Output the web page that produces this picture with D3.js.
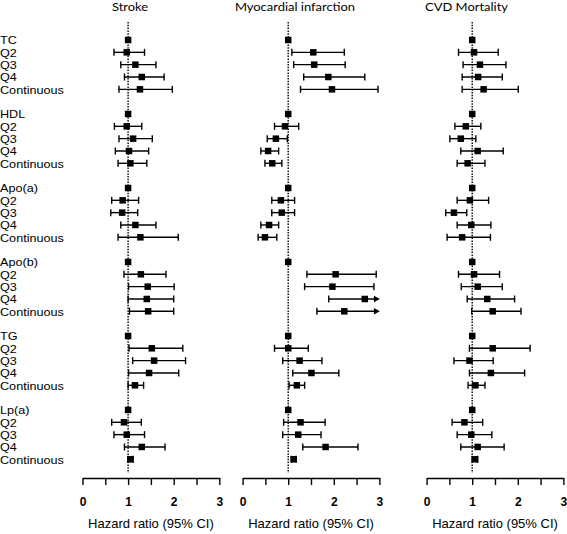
<!DOCTYPE html>
<html><head><meta charset="utf-8">
<script src="https://cdn.jsdelivr.net/npm/d3@7"></script>
<style>
html,body{margin:0;padding:0;background:#fff;}
svg{display:block;}
</style></head>
<body>
<script>
// ---- data ----
const panels = ["Stroke", "Myocardial infarction", "CVD Mortality"];
const groups = ["TC", "HDL", "Apo(a)", "Apo(b)", "TG", "Lp(a)"];
const subRows = ["Q2", "Q3", "Q4", "Continuous"];
const tickValues = [0, 0.5, 1, 1.5, 2, 2.5, 3];
const tickLabels = ["0", "", "1", "", "2", "", "3"];
const axisTitle = "Hazard ratio (95% CI)";

// order per panel: TC Q2,Q3,Q4,Cont | HDL ... | Apo(a) | Apo(b) | TG | Lp(a)
const strokeEst = [0.97,1.16,1.30,1.26, 0.97,1.11,1.02,1.05, 0.88,0.87,1.16,1.27, 1.28,1.43,1.41,1.44, 1.52,1.57,1.46,1.15, 0.91,0.97,1.30,1.05];
const strokeLo  = [0.69,0.84,0.92,0.80, 0.70,0.80,0.72,0.78, 0.64,0.62,0.84,0.78, 0.91,1.01,1.00,1.03, 1.02,1.10,1.01,1.00, 0.64,0.69,0.92,1.00];
const strokeHi  = [1.36,1.61,1.79,1.97, 1.30,1.53,1.45,1.41, 1.23,1.21,1.61,2.10, 1.83,2.01,2.00,2.00, 2.20,2.26,2.11,1.34, 1.29,1.36,1.81,1.11];

const miEst = [1.55,1.57,1.88,1.96, 0.93,0.73,0.56,0.65, 0.84,0.86,0.58,0.49, 2.04,1.97,2.68,2.23, 1.00,1.25,1.51,1.19, 1.27,1.22,1.82,1.12];
const miLo  = [1.08,1.12,1.34,1.27, 0.70,0.54,0.40,0.49, 0.64,0.64,0.40,0.34, 1.41,1.36,1.89,1.63, 0.70,0.88,1.10,1.02, 0.90,0.88,1.32,1.07];
const miHi  = [2.23,2.25,2.68,2.97, 1.23,0.98,0.79,0.86, 1.14,1.14,0.79,0.75, 2.93,2.88,3.50,3.50, 1.44,1.74,2.11,1.36, 1.81,1.72,2.53,1.17];

const cvdEst = [1.04,1.17,1.13,1.25, 0.86,0.75,1.12,0.90, 0.95,0.60,0.98,0.78, 1.04,1.12,1.33,1.45, 1.45,0.94,1.41,1.07, 0.83,0.98,1.12,1.06];
const cvdLo  = [0.70,0.80,0.78,0.78, 0.62,0.51,0.75,0.67, 0.67,0.42,0.67,0.45, 0.70,0.76,0.89,0.99, 0.94,0.60,0.94,0.91, 0.56,0.67,0.75,1.00];
const cvdHi  = [1.57,1.74,1.66,2.01, 1.19,1.08,1.68,1.28, 1.36,0.88,1.41,1.40, 1.60,1.66,1.93,2.07, 2.27,1.46,2.15,1.28, 1.23,1.43,1.70,1.12];

const panelData = [
  {est: strokeEst, lo: strokeLo, hi: strokeHi},
  {est: miEst, lo: miLo, hi: miHi},
  {est: cvdEst, lo: cvdLo, hi: cvdHi}
];

// ---- layout ----
const W = 567, H = 534;
const panelLeft = [82.5, 242.6, 426.6];
const unitPx = 45.6;
const titleCenter = [130, 295, 466.5];
const rowTop = 40, rowBottom = 459.3;
const axisY = 478;

const svg = d3.select("body").append("svg").attr("width", W).attr("height", H);

// row list
const rows = [];
groups.forEach((g, gi) => {
  rows.push({label: g, group: gi, ref: true, idx: null});
  subRows.forEach((s, si) => rows.push({label: s, group: gi, ref: false, idx: gi * subRows.length + si}));
});
const nRows = rows.length + groups.length - 1; // with blank rows
const y = d3.scaleLinear().domain([0, nRows - 1]).range([rowTop, rowBottom]);
rows.forEach((r, i) => { r.pos = r.group * (subRows.length + 2) + (i - r.group * (subRows.length + 1)); });

// row labels
svg.append("g").selectAll("text").data(rows).join("text")
  .attr("transform", d => `translate(0,${y(d.pos) + 4.2}) scale(1.17,1)`)
  .attr("font-family", "'Liberation Sans', Arial, sans-serif")
  .attr("font-size", 10.8).attr("fill", "#000")
  .text(d => d.label);

panels.forEach((p, pi) => {
  const x = d3.scaleLinear().domain([0, 3]).range([panelLeft[pi], panelLeft[pi] + 3 * unitPx]);
  const g = svg.append("g");
  const data = panelData[pi];

  // title
  g.append("text").attr("transform", `translate(${titleCenter[pi]},10.8) scale(1.2,1)`)
    .attr("text-anchor", "middle")
    .attr("font-family", "Lato, 'Open Sans', sans-serif")
    .attr("font-size", 10.8).attr("fill", "#000").text(p);

  // dotted reference line
  g.append("line").attr("x1", x(1)).attr("x2", x(1)).attr("y1", 22).attr("y2", 473)
    .attr("stroke", "#000").attr("stroke-width", 1.4).attr("stroke-dasharray", "1.5,1.3");

  // axis
  const ax = g.append("g").attr("transform", `translate(0,${axisY})`)
    .call(d3.axisBottom(x).tickValues(tickValues).tickSize(7).tickSizeOuter(0)
      .tickFormat((d, i) => tickLabels[i]));
  ax.select(".domain").attr("stroke", "#000").attr("stroke-width", 1.4);
  ax.selectAll(".tick line").attr("stroke", "#000").attr("stroke-width", 1.4);
  ax.selectAll(".tick text").attr("y", 28).attr("dy", 0)
    .attr("font-family", "'Liberation Sans', Arial, sans-serif")
    .attr("font-size", 12).attr("font-weight", "bold").attr("fill", "#000");

  g.append("text").attr("x", x(1.5)).attr("y", 528).attr("text-anchor", "middle")
    .attr("font-family", "'Liberation Sans', Arial, sans-serif")
    .attr("font-size", 13).attr("fill", "#000").text(axisTitle);

  // marks
  const sq = 6.5, cap = 3.5;
  rows.forEach(r => {
    const cy = y(r.pos);
    if (r.ref) {
      g.append("rect").attr("x", x(1) - sq / 2).attr("y", cy - sq / 2)
        .attr("width", sq).attr("height", sq).attr("fill", "#000");
      return;
    }
    const est = data.est[r.idx], lo = data.lo[r.idx], hi = data.hi[r.idx];
    const over = hi > 3;
    const hiX = over ? x(3) - 5 : x(hi);
    g.append("line").attr("x1", x(lo)).attr("x2", hiX).attr("y1", cy).attr("y2", cy)
      .attr("stroke", "#000").attr("stroke-width", 1.4);
    g.append("line").attr("x1", x(lo)).attr("x2", x(lo)).attr("y1", cy - cap).attr("y2", cy + cap)
      .attr("stroke", "#000").attr("stroke-width", 1.4);
    if (over) {
      const tip = x(3) + 0.5;
      g.append("path").attr("d", `M${tip},${cy} L${tip - 6},${cy - 3.2} L${tip - 6},${cy + 3.2} Z`)
        .attr("fill", "#000");
    } else {
      g.append("line").attr("x1", x(hi)).attr("x2", x(hi)).attr("y1", cy - cap).attr("y2", cy + cap)
        .attr("stroke", "#000").attr("stroke-width", 1.4);
    }
    g.append("rect").attr("x", x(est) - sq / 2).attr("y", cy - sq / 2)
      .attr("width", sq).attr("height", sq).attr("fill", "#000");
  });
});
</script>
</body></html>
